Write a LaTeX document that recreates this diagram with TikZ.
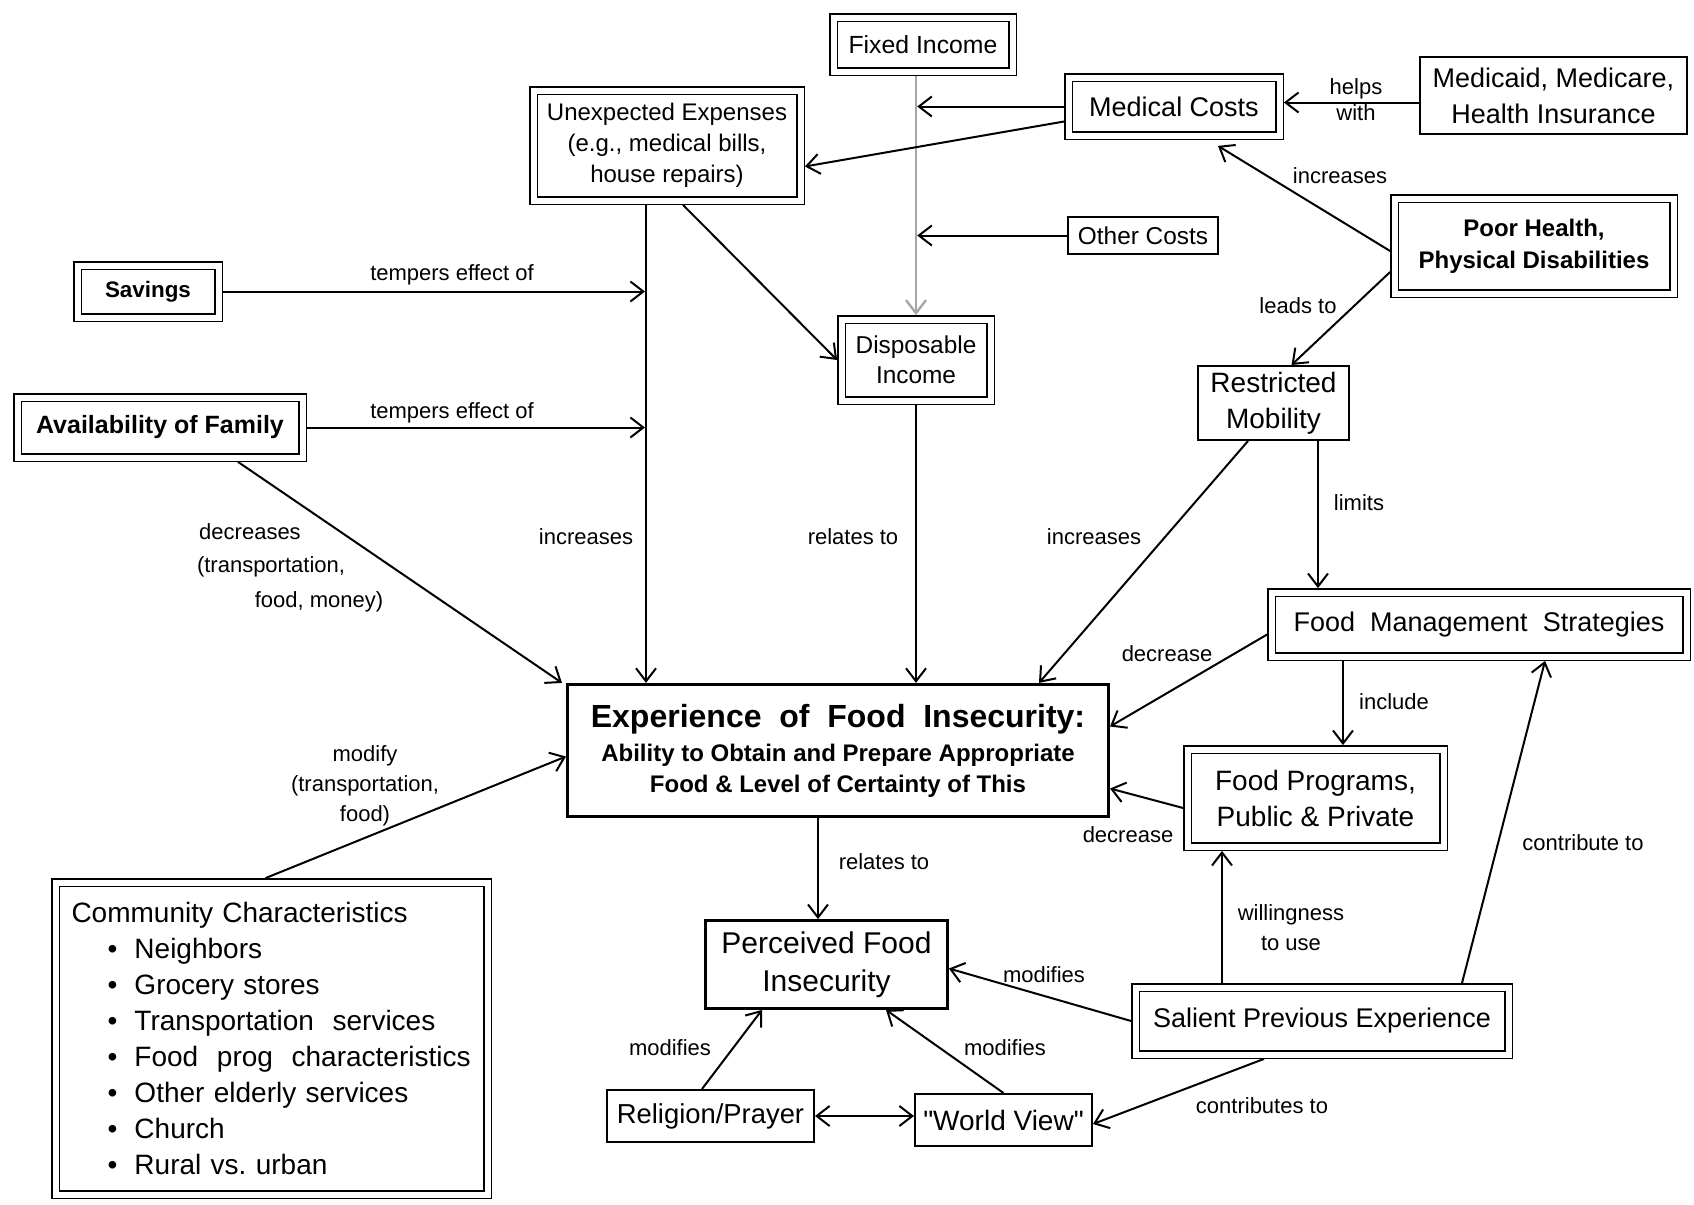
\documentclass[tikz,border=0pt]{standalone}
\usepackage{fontspec}
\setmainfont{Liberation Sans}[Ligatures=TeXOff]
\usetikzlibrary{arrows.meta,calc}
\newcommand\fsz[2]{\fontsize{#1pt}{#2pt}\selectfont}
\newcommand\cbul[1]{\\\hspace*{18pt}\makebox[13.5pt][l]{•}#1}
\begin{document}
\begin{tikzpicture}[x=0.5pt,y=-0.5pt,
  >={Straight Barb[length=6.5pt,width=10pt]},
  sbox/.style={draw, line width=1pt, align=center, inner sep=2pt},
  dbox/.style={draw, double, double distance=3pt, line width=0.7pt, outer sep=2.2pt, align=center, inner sep=2pt},
  lbl/.style={font=\fsz{11}{13}, inner sep=0pt, align=center},
  arr/.style={->, line width=1pt},
]
\useasboundingbox (0,0) rectangle (1694,1205);

% ---------- nodes ----------
\node[dbox, minimum width=89.5pt, minimum height=27pt, font=\fsz{12.4}{15}] (fi) at (923,44.5) {Fixed Income};
\node[dbox, minimum width=133.5pt, minimum height=55pt, font=\fsz{12}{15.5}] (ue) at (667,145.5) {Unexpected Expenses\\(e.g., medical bills,\\house repairs)};
\node[dbox, minimum width=105.5pt, minimum height=29pt, font=\fsz{13.5}{16}] (mc) at (1174,106.5) {Medical Costs};
\node[sbox, minimum width=133.5pt, minimum height=38.5pt, font=\fsz{13.5}{18}] (mm) at (1553.5,95.5) {Medicaid, Medicare,\\Health Insurance};
\node[dbox, minimum width=139.5pt, minimum height=47.5pt, font=\fsz{12}{16}\bfseries] (ph) at (1534,246) {Poor Health,\\Physical Disabilities};
\node[sbox, minimum width=75pt, minimum height=18.5pt, font=\fsz{12.2}{15}] (oc) at (1143,235.5) {Other Costs};
\node[dbox, minimum width=70.5pt, minimum height=26pt, font=\fsz{11.2}{14}\bfseries] (sv) at (148,291.5) {Savings};
\node[dbox, minimum width=74.5pt, minimum height=40.5pt, font=\fsz{12.2}{15}] (di) at (916,360) {Disposable\\Income};
\node[sbox, minimum width=75.5pt, minimum height=37pt, font=\fsz{14}{18}] (rm) at (1273.5,403) {Restricted\\Mobility};
\node[dbox, minimum width=142.5pt, minimum height=30pt, font=\fsz{12.5}{15}\bfseries] (af) at (160,427.5) {Availability of Family};
\node[dbox, minimum width=207.5pt, minimum height=32pt, font=\fsz{13.5}{16}] (fms) at (1479,624.5) {Food\ \ Management\ \ Strategies};
\node[sbox, line width=1.6pt, minimum width=270.4pt, minimum height=66pt, font=\fsz{12}{15.5}\bfseries] (ex) at (838,750.5) {{\fsz{16}{18}Experience\ \ of\ \ Food\ \ Insecurity:}\\[1.5pt]Ability to Obtain and Prepare Appropriate\\Food \& Level of Certainty of This};
\node[dbox, minimum width=128pt, minimum height=48.5pt, font=\fsz{14}{18}] (fp) at (1315.5,798) {Food Programs,\\Public \& Private};
\node[dbox, minimum width=216pt, minimum height=156pt, font=\fsz{14}{18}, align=left, text width=200pt, inner xsep=8pt, inner ysep=4pt] (cc) at (271.5,1038.5) {Community\ Characteristics\cbul{Neighbors}\cbul{Grocery\ stores}\cbul{Transportation\ \ services}\cbul{Food\ \ prog\ \ characteristics}\cbul{Other elderly services}\cbul{Church}\cbul{Rural\ vs.\ urban}};
\node[sbox, line width=1.4pt, minimum width=121pt, minimum height=44pt, font=\fsz{15}{19}] (pfi) at (826.5,964.5) {Perceived Food\\Insecurity};
\node[dbox, minimum width=186.5pt, minimum height=33.5pt, font=\fsz{13.5}{16}] (spe) at (1322,1021) {Salient Previous Experience};
\node[sbox, minimum width=103.5pt, minimum height=26pt, font=\fsz{13.7}{16}] (rp) at (710.5,1116) {Religion/Prayer};
\node[sbox, minimum width=88.5pt, minimum height=26pt, font=\fsz{14}{16}] (wv) at (1003.5,1120) {"World View"};

% ---------- connectors ----------
\draw[arr, draw=gray!70, line width=1.2pt] (fi.south -| di.north) -- (di.north);
\coordinate (j1) at (di.north |- mc.west);
\coordinate (j2) at (di.north |- oc.west);
\draw[arr] (mc.west) -- ($(j1)+(1.2,0)$);
\draw[arr] (oc.west) -- ($(j2)+(1.2,0)$);
\draw[arr] ([yshift=-7.5pt]mc.west) -- ([yshift=-10.5pt]ue.east);
\draw[arr] ([yshift=-3.5pt]mm.west) -- ([yshift=-3.5pt]mm.west -| mc.east);
\draw[arr] ([yshift=-2.5pt]ph.west) -- ([xshift=22pt,yshift=-3pt]mc.south);
\draw[arr] ([yshift=-13pt]ph.west) -- ([xshift=9pt]rm.north);

\coordinate (uel) at ([xshift=-10.5pt]ue.south);
\draw[arr] (uel) -- (uel |- ex.north);
\draw[arr] (sv.east) -- ($(uel |- sv.east)+(-1,0)$);
\draw[arr] (af.east) -- ($(uel |- af.east)+(-1,0)$);
\draw[arr] ([xshift=8pt]ue.south) -- (di.west);
\draw[arr] (di.south) -- (di.south |- ex.north);
\draw[arr] ([xshift=-12.75pt]rm.south) -- ([xshift=100.5pt]ex.north);
\draw[arr] ($(rm.south)+(44.5,0)$) -- ($(rm.south |- fms.north)+(44.5,0)$);
\draw[arr] ([yshift=-5pt]fms.west) -- ([yshift=12pt]ex.east);
\draw[arr] ($(fp.north |- fms.south)+(27.5,0)$) -- ($(fp.north)+(27.5,0)$);
\draw[arr] ([yshift=-5pt]fp.west) -- ([yshift=-19pt]ex.east);
\draw[arr] ([xshift=39pt]af.south) -- ([xshift=-2pt]ex.north west);
\draw[arr] ([xshift=-3pt]cc.north) -- ([yshift=-3pt]ex.west);
\draw[arr] ($(ex.south)+(-20,0)$) -- ($(ex.south |- pfi.north)+(-20,0)$);
\draw[arr] (spe.west) -- ([yshift=-2pt]pfi.east);
\draw[arr] ($(spe.north)+(-100,0)$) -- ($(spe.north |- fp.south)+(-100,0)$);
\draw[arr] ($(spe.north)+(140,0)$) -- ($(fms.south)+(66,0)$);
\draw[arr] ($(spe.south)+(-58,0)$) -- ([yshift=-2pt]wv.east);
\draw[arr] ($(rp.north)+(-8.5,0)$) -- ($(pfi.south)+(-64.5,0)$);
\draw[arr] (wv.north) -- ($(pfi.south)+(59.5,0)$);
\draw[<->, line width=1pt] (rp.east) -- (rp.east -| wv.west);

% ---------- labels ----------
\node[lbl] (l1) at (1356,100) {helps\\with};
\node[lbl] (l2) at (1340,176) {increases};
\node[lbl] (l3) at (1298,306) {leads to};
\node[lbl] (l4) at (452,275) {tempers effect of};
\node[lbl] (l5) at (452,413) {tempers effect of};
\node[lbl] (l6a) at (250,532) {decreases};
\node[lbl] (l6b) at (271,567) {(transportation,};
\node[lbl] (l6c) at (319,602) {food, money)};
\node[lbl] (l7) at (586,537) {increases};
\node[lbl] (l8) at (853,537) {relates to};
\node[lbl] (l9) at (1094,537) {increases};
\node[lbl] (l10) at (1359,503) {limits};
\node[lbl] (l11) at (1167,654) {decrease};
\node[lbl] (l12) at (1394,702) {include};
\node[lbl] (l13) at (1128,835) {decrease};
\node[lbl, font=\fsz{11}{15}] (l14) at (365,786) {modify\\(transportation,\\food)};
\node[lbl] (l15) at (884,862) {relates to};
\node[lbl, font=\fsz{11}{15}] (l16) at (1291,928) {willingness\\to use};
\node[lbl] (l17) at (1583,843) {contribute to};
\node[lbl] (l18) at (1044,975) {modifies};
\node[lbl] (l19) at (670,1048) {modifies};
\node[lbl] (l20) at (1005,1048) {modifies};
\node[lbl] (l21) at (1262,1106) {contributes to};
\end{tikzpicture}
\end{document}
